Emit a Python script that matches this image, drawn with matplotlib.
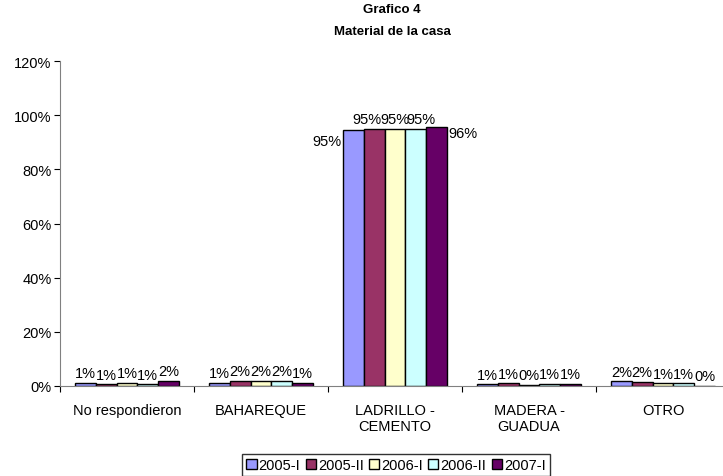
import numpy as np
import matplotlib
matplotlib.use("Agg")
import matplotlib.pyplot as plt

plt.rcParams['font.family'] = ['Liberation Sans', 'DejaVu Sans']

categories = ['No respondieron', 'BAHAREQUE', 'LADRILLO -\nCEMENTO', 'MADERA -\nGUADUA', 'OTRO']
series = ['2005-I', '2005-II', '2006-I', '2006-II', '2007-I']
colors = ['#9999FF', '#993366', '#FFFFCC', '#CCFFFF', '#660066']

v_2005_I = [0.012, 0.012, 0.947, 0.006, 0.017]
v_2005_II = [0.006, 0.018, 0.948, 0.010, 0.016]
v_2006_I = [0.012, 0.018, 0.948, 0.004, 0.010]
v_2006_II = [0.006, 0.018, 0.948, 0.009, 0.010]
v_2007_I = [0.018, 0.012, 0.955, 0.009, 0.000]
values = [v_2005_I, v_2005_II, v_2006_I, v_2006_II, v_2007_I]

fig = plt.figure(figsize=(7.23, 4.77), dpi=100)
ax = fig.add_axes([60/723, 90/477, 670/723, 325/477])

x = np.arange(len(categories)) + 0.5
w = 0.155
for i, (s, vals) in enumerate(zip(series, values)):
    pos = x + (i - 2) * w
    ax.bar(pos, vals, w, color=colors[i], edgecolor='black', linewidth=1, label=s)
    for j, v in enumerate(vals):
        lab = '%d%%' % round(v * 100)
        if j == 2 and i == 0:
            ax.annotate(lab, (pos[j] - w/2, v), xytext=(-1, -8), textcoords='offset points',
                        ha='right', va='center', fontsize=10.5)
        elif j == 2 and i == 4:
            ax.annotate(lab, (pos[j] + w/2, v), xytext=(1, -4), textcoords='offset points',
                        ha='left', va='center', fontsize=10.5)
        else:
            dx = 0
            if j == 2:
                dx = {1: -5, 2: 0, 3: 4}[i]
            ax.annotate(lab, (pos[j], v), xytext=(dx, 2), textcoords='offset points',
                        ha='center', va='bottom', fontsize=10.5)

ax.set_xlim(0, 5)
ax.set_ylim(0, 1.2)
ax.set_yticks(np.arange(0, 1.21, 0.2))
ax.set_yticklabels(['%d%%' % round(t * 100) for t in np.arange(0, 1.21, 0.2)], fontsize=10.5)
ax.set_xticks(np.arange(0, 6))
ax.set_xticklabels([])
ax.set_xticks(x, minor=True)
ax.set_xticklabels(categories, minor=True, fontsize=10.5)
ax.tick_params(axis='x', which='minor', length=0, pad=12)
ax.tick_params(axis='x', which='major', length=4, direction='out', color='black')
ax.tick_params(axis='y', length=4, direction='out', color='black', pad=2)
for sp in ['top', 'right']:
    ax.spines[sp].set_visible(False)
ax.spines['left'].set_color('#808080')
ax.spines['bottom'].set_color('#808080')

fig.text(392/723, 1 - 10/477, 'Grafico 4', ha='center', va='center', fontsize=9.5, fontweight='bold')
fig.text(392/723, 1 - 32/477, 'Material de la casa', ha='center', va='center', fontsize=9.5, fontweight='bold')

leg = fig.legend(loc='center', bbox_to_anchor=(396/723, 1 - 466/477), ncol=5, fontsize=10.5,
                 frameon=True, fancybox=False, edgecolor='black', handlelength=0.7, handleheight=0.7,
                 handletextpad=0.15, columnspacing=0.35, borderpad=0.3, borderaxespad=0)
leg.get_frame().set_linewidth(1)

fig.savefig('out.png', dpi=100)
